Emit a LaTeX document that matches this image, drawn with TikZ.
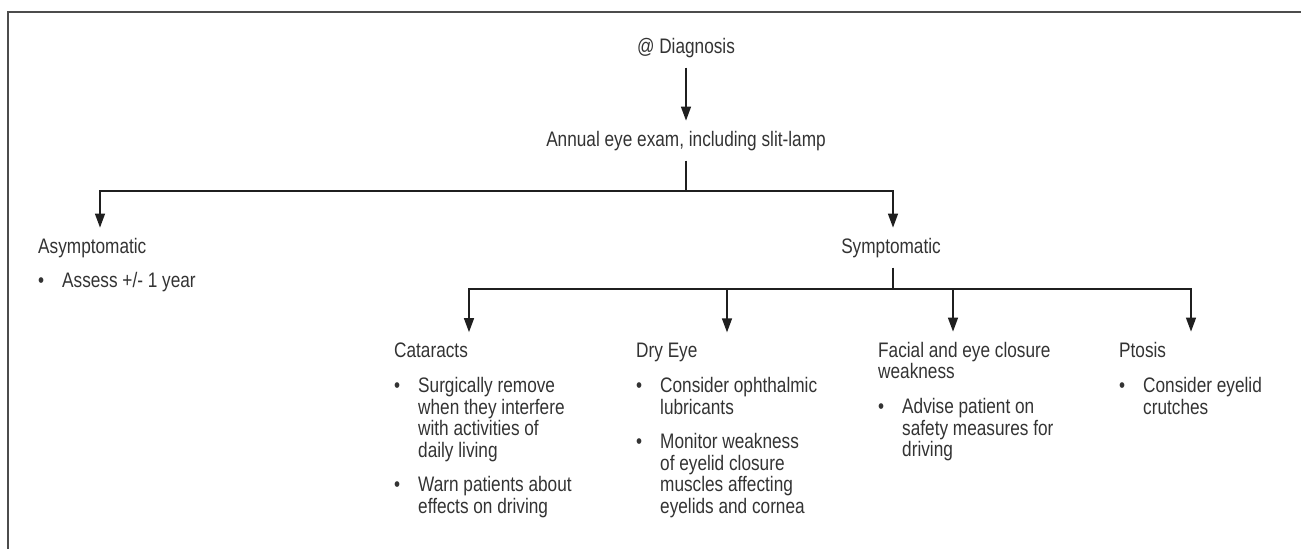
\documentclass[tikz,border=0pt]{standalone}
\usepackage{fontspec}
\setmainfont{Liberation Sans}[FakeStretch=0.82]
\usepackage{tikz}
\usetikzlibrary{arrows.meta}
\colorlet{txtcol}{black!80}
\colorlet{linecol}{black!88}
\colorlet{framecol}{black!70}
\newcommand{\bitem}[1]{\makebox[24pt][l]{\textbullet}\begin{tabular}[t]{@{}l@{}}#1\end{tabular}}

\begin{document}
\begin{tikzpicture}[
x=1pt, y=-1pt,
Label/.style={text=txtcol, font=\fontsize{21}{21}\selectfont, inner xsep=0pt, inner ysep=10pt, align=left},
List/.style={text=txtcol, font=\fontsize{21}{21}\selectfont, inner sep=0pt, align=left},
Link/.style={draw=linecol, line width=1.4pt},
Arrow/.style={Link, -{Triangle[length=14pt, width=10pt]}}
]

\useasboundingbox (0,0) rectangle (1301,549);

% frame, only top and left edges show
\draw[framecol, line width=2pt] (1301,12) -| (8,549);

% top of the chart
\node[Label, anchor=base] (diag) at (686,53) {@ Diagnosis};
\node[Label, anchor=base] (exam) at (686,146) {Annual eye exam, including slit-lamp};

\node[Label, anchor=base west] (asym) at (38,253) {Asymptomatic};
\node[Label, anchor=base] (sym) at (891,253) {Symptomatic};

\node[List, anchor=north west] (asyml) at (38,272.3) {\bitem{Assess +/- 1 year}};

% symptomatic branches
\node[Label, anchor=base west] (cat) at (394,357) {Cataracts};
\node[Label, anchor=base west] (dry) at (636,357) {Dry Eye};
\node[Label, anchor=base west] (fac) at (878,378) {Facial and eye closure\\weakness};
\node[Label, anchor=base west] (pto) at (1119,357) {Ptosis};

\node[List, anchor=north west] (catl) at (394,377.3) {\bitem{Surgically remove\\when they interfere\\with activities of\\daily living}\\[12pt]\bitem{Warn patients about\\effects on driving}};
\node[List, anchor=north west] (dryl) at (636,377.3) {\bitem{Consider ophthalmic\\lubricants}\\[12pt]\bitem{Monitor weakness\\of eyelid closure\\muscles affecting\\eyelids and cornea}};
\node[List, anchor=north west] (facl) at (878,398.3) {\bitem{Advise patient on\\safety measures for\\driving}};
\node[List, anchor=north west] (ptol) at (1119,377.3) {\bitem{Consider eyelid\\crutches}};

% connectors
\draw[Arrow] (diag) -- (exam);

\coordinate (split1) at (exam.south |- 0,191);
\draw[Link] (exam.south) -- (split1);
\draw[Arrow] (split1) -| ([xshift=62pt]asym.north west);
\draw[Arrow] (split1) -| ([xshift=2pt]sym.north);

\coordinate (split2) at ([xshift=2pt]sym.south |- 0,289);
\draw[Link] ([xshift=2pt]sym.south) -- (split2);
\draw[Arrow] (split2) -| ([xshift=75pt]cat.north west);
\draw[Arrow] (split2) -| ([xshift=91pt]dry.north west);
\draw[Arrow] (split2) -| ([xshift=75pt]fac.north west);
\draw[Arrow] (split2) -| ([xshift=72pt]pto.north west);

\end{tikzpicture}
\end{document}
